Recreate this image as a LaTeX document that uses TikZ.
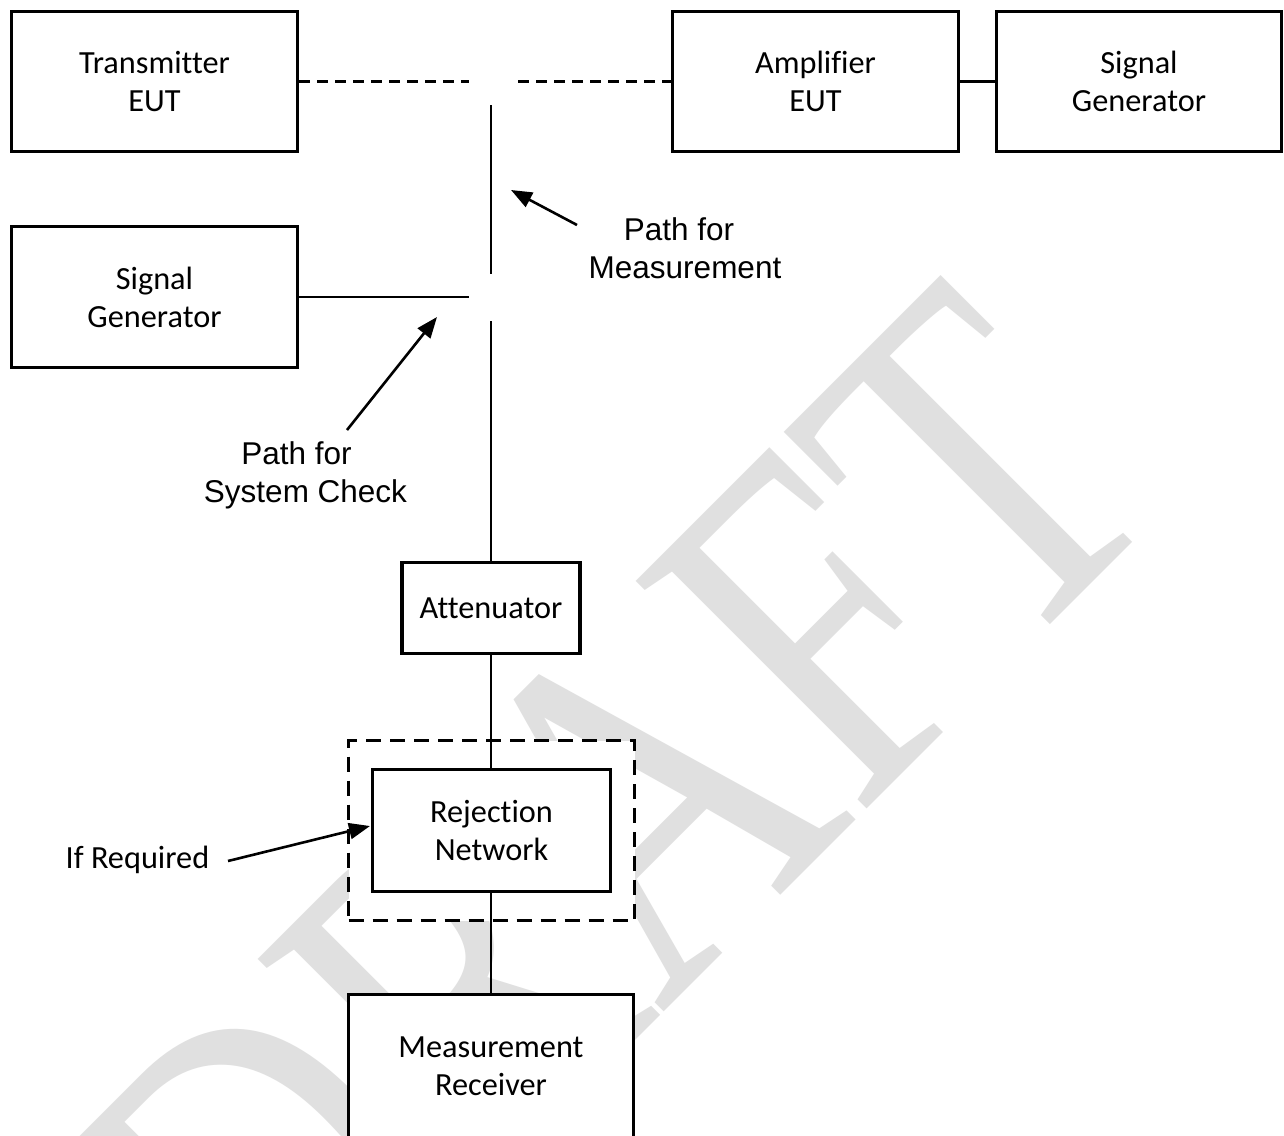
\documentclass[tikz,border=0pt]{standalone}
\usepackage{fontspec}
\usetikzlibrary{arrows.meta}
\newfontfamily\boxfont{Carlito}[Ligatures=CommonOff]
\newfontfamily\notefont{Liberation Sans}
\newfontfamily\wmfont{Liberation Serif}
\definecolor{wmgray}{RGB}{224,224,224}
\tikzset{
  unit/.style={draw, line width=3.5pt, fill=white, inner sep=0pt, align=center,
    font=\boxfont\fontsize{32.3}{38}\selectfont},
  fence/.style={draw, dashed, dash pattern=on 15pt off 9pt, line width=3.4pt,
    fill=white, inner sep=0pt},
  note/.style={inner sep=0pt, align=center, font=\notefont\fontsize{31.5}{38}\selectfont},
  boxnote/.style={inner sep=0pt, font=\boxfont\fontsize{32.3}{38}\selectfont},
  wire/.style={line width=2.3pt},
  dashwire/.style={line width=3pt, dash pattern=on 11pt off 7pt},
  pointer/.style={line width=2.6pt, -{Triangle[length=21pt,width=16pt]}},
  watermark/.style={inner sep=0pt, anchor=base west, rotate=45, yscale=1.286,
    text=wmgray, font=\wmfont\fontsize{385}{385}\selectfont}
}
\begin{document}
\begin{tikzpicture}[x=1pt,y=-1pt]
  \useasboundingbox (0,0) rectangle (1284,1135);
  \clip (0,0) rectangle (1284,1135);
  \fill[white] (0,0) rectangle (1284,1135);

  % background watermark
  \node[watermark] (draft) at (282.8,1393) {DRAFT};

  % equipment blocks
  \node[unit, minimum width=286, minimum height=140] (tx)   at (154.5,81.5) {Transmitter\\EUT};
  \node[unit, minimum width=286, minimum height=140] (amp)  at (815.5,81.5) {Amplifier\\EUT};
  \node[unit, minimum width=285, minimum height=140] (sgr)  at (1139,81.5)  {Signal\\Generator};
  \node[unit, minimum width=286, minimum height=141] (sgl)  at (154.5,297)  {Signal\\Generator};
  \node[unit, minimum width=178, minimum height=91]  (att)  at (491,608)    {Attenuator};
  \node[fence, minimum width=286, minimum height=180] (opt) at (491.5,830.5) {};
  \node[unit, minimum width=238, minimum height=122] (rej)  at (491.5,830.5) {Rejection\\Network};
  \node[unit, minimum width=285, minimum height=144] (meas) at (491,1066.5) {Measurement\\Receiver};

  % open ends of the switchable path
  \coordinate (gapL) at (469,81);
  \coordinate (gapR) at (518,81);
  \coordinate (chkEnd) at (469,297);
  \coordinate (mTop) at (491,105);
  \coordinate (mBot) at (491,274);
  \coordinate (cTop) at (491,321);

  % connections
  \draw[dashwire] (tx.east |- gapL) -- (gapL);
  \draw[dashwire] (gapR) -- (amp.west |- gapR);
  \draw[wire] (amp.east) -- (sgr.west);
  \draw[wire] (sgl.east |- chkEnd) -- (chkEnd);
  \draw[wire] (mTop) -- (mBot);
  \draw[wire] (cTop) -- (att.north -| cTop);
  \draw[wire] (att.south -| cTop) -- (rej.north -| cTop);
  \draw[wire] (rej.south -| cTop) -- (meas.north -| cTop);

  % annotations
  \node[note] (pm) at (685,248) {Path for\hspace*{12pt}\\Measurement};
  \node[note] (pc) at (305.5,475.5) {Path for\hspace*{18pt}\\System Check};
  \node[boxnote] (ir) at (137.5,860) {If Required};

  \coordinate (pmTail) at (577,225);
  \coordinate (pmTip) at (511,190);
  \coordinate (pcTail) at (347,430);
  \coordinate (pcTip) at (437,317);
  \coordinate (irTail) at (228,861);
  \coordinate (irTip) at (370,826);

  \draw[pointer] (pmTail) -- (pmTip);
  \draw[pointer] (pcTail) -- (pcTip);
  \draw[pointer] (irTail) -- (irTip);
\end{tikzpicture}
\end{document}
